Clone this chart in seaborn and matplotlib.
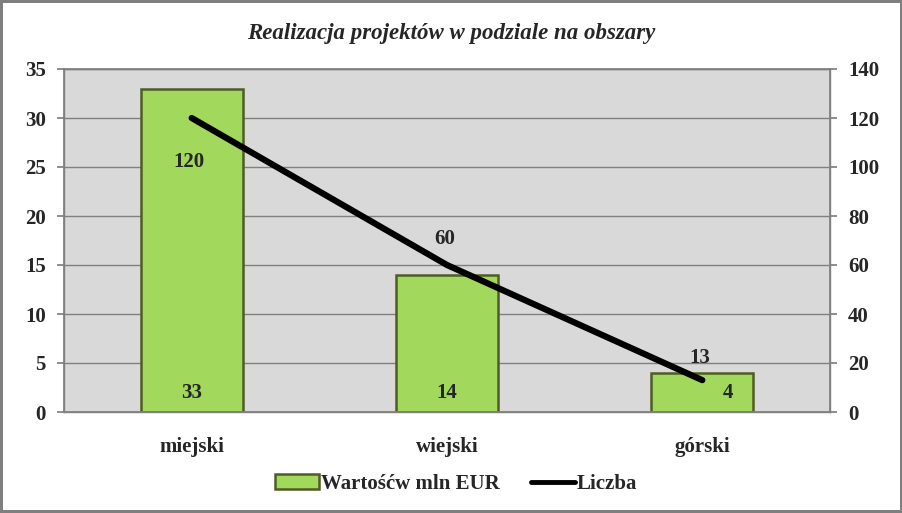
import matplotlib
matplotlib.use("Agg")
import matplotlib.pyplot as plt
import seaborn as sns
import pandas as pd
from matplotlib.patches import Patch
from matplotlib.lines import Line2D

categories = ["miejski", "wiejski", "górski"]
wartosc = [33, 14, 4]
liczba = [120, 60, 13]
title = "Realizacja projektów w podziale na obszary"
bar_label = "Wartośćw mln EUR"
line_label = "Liczba"

sns.set_theme(style="white")
plt.rcParams['font.family'] = ['Liberation Serif', 'DejaVu Serif']
plt.rcParams['font.weight'] = 'bold'

FS = 15

df = pd.DataFrame({"cat": categories, "val": wartosc, "cnt": liczba})
df["pos"] = range(len(categories))

fig = plt.figure(figsize=(9.03, 5.13), dpi=100)
fig.patch.set_facecolor("white")
fig.patch.set_edgecolor("#7f7f7f")
fig.patch.set_linewidth(3)
ax = fig.add_axes([64/903, 1-412/513, (830-64)/903, (412-69)/513])
ax.set_facecolor("#d9d9d9")

sns.barplot(data=df, x="cat", y="val", ax=ax, color="#a2d85c", width=0.4,
            edgecolor="#4f5c24", linewidth=1.8, saturation=1, zorder=3)
ax.set_ylim(0, 35)
ax.set_xlim(-0.5, 2.5)
ax.set_yticks(range(0, 36, 5))
ax.yaxis.grid(True, color="#808080", linewidth=1)
ax.set_axisbelow(True)
ax.set_xlabel("")
ax.set_ylabel("")
for s in ax.spines.values():
    s.set_color("#808080")
    s.set_linewidth(1)
ax.tick_params(axis="y", labelsize=FS, length=5, color="#808080", direction="out", pad=8, left=True)
ax.tick_params(axis="x", labelsize=FS, length=0, pad=18)
for lab in ax.get_xticklabels() + ax.get_yticklabels():
    lab.set_fontweight("bold")

ax2 = ax.twinx()
sns.lineplot(x=df["pos"], y=df["cnt"], ax=ax2, color="black", linewidth=4.5, zorder=5)
ax2.set_ylim(0, 140)
ax2.set_yticks(range(0, 141, 20))
ax2.set_ylabel("")
ax2.set_xlabel("")
ax2.grid(False)
for s in ax2.spines.values():
    s.set_color("#808080")
ax2.tick_params(axis="y", labelsize=FS, length=5, color="#808080", direction="out", pad=8, right=True)
for lab in ax2.get_yticklabels():
    lab.set_fontweight("bold")

# bar value labels
bar_dx = [0, 0, 0.1]
for i, v in enumerate(wartosc):
    ax.annotate(str(v), (i + bar_dx[i], 0), xytext=(0, 14), textcoords="offset points",
                ha="center", va="center", fontsize=FS, fontweight="bold", zorder=6)
# line value labels
line_dy = [-32, 19, 16]
for i, v in enumerate(liczba):
    ax2.annotate(str(v), (i, v), xytext=(-2, line_dy[i]), textcoords="offset points",
                 ha="center", va="center", fontsize=FS, fontweight="bold", zorder=6)

fig.text(451/903, 1-33/513, title, ha="center", va="center", fontsize=16.5,
         fontstyle="italic", fontweight="bold")

handles = [Patch(facecolor="#a2d85c", edgecolor="#4f5c24", linewidth=1.8),
           Line2D([0], [0], color="black", linewidth=3.5)]
fig.legend(handles, [bar_label, line_label], loc="center", bbox_to_anchor=(456/903, 1-484/513),
           ncol=2, frameon=False, prop={"size": FS, "weight": "bold"},
           handlelength=2.1, handletextpad=0.1, columnspacing=1.5)

fig.savefig("out.png", dpi=100, facecolor=fig.get_facecolor(), edgecolor=fig.get_edgecolor())
